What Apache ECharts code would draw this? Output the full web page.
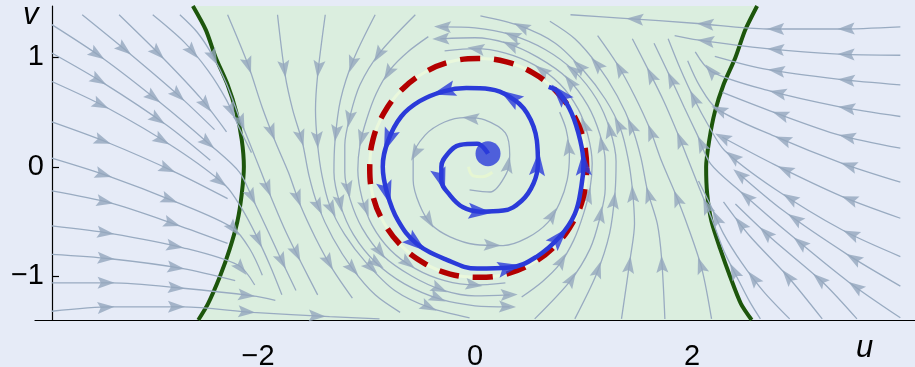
<!DOCTYPE html>
<html><head><meta charset="utf-8">
<script src="https://cdn.jsdelivr.net/npm/echarts@6/dist/echarts.min.js"></script>
<style>html,body{margin:0;padding:0;background:#e6ebf7;}#c{width:915px;height:367px;}</style>
</head><body><div id="c"></div>
<script>
// ---- tick values ----
const uTicks = [-2, 0, 2];
const vTicks = [-1, 0, 1];

// ---- boundary curves of the shaded band (u, v) ----
const leftBoundary = [[-2.60,1.47],[-2.48,1.25],[-2.39,1.00],[-2.28,0.75],[-2.20,0.50],[-2.15,0.25],[-2.13,0.00],[-2.15,-0.25],[-2.19,-0.50],[-2.26,-0.75],[-2.35,-1.00],[-2.46,-1.25],[-2.55,-1.40]];
const rightBoundary = [[2.60,1.47],[2.49,1.25],[2.40,1.00],[2.29,0.75],[2.21,0.50],[2.16,0.25],[2.13,0.00],[2.14,-0.25],[2.18,-0.50],[2.26,-0.75],[2.35,-1.00],[2.45,-1.25],[2.55,-1.40]];

// ---- limit cycle (red dashed) ----
const limitCycle = [[1.03,-0.01],[1.00,0.25],[0.90,0.49],[0.74,0.70],[0.53,0.86],[0.29,0.96],[0.03,0.99],[-0.23,0.96],[-0.47,0.86],[-0.68,0.70],[-0.84,0.49],[-0.94,0.25],[-0.97,-0.01],[-0.94,-0.27],[-0.84,-0.51],[-0.68,-0.72],[-0.47,-0.88],[-0.23,-0.98],[0.03,-1.01],[0.29,-0.98],[0.53,-0.88],[0.74,-0.72],[0.90,-0.51],[1.00,-0.27],[1.03,-0.01]];

// ---- trajectory (blue) ----
const startPoint = [0.12, 0.12];
const trajectory = [[0.12,0.12],[0.02,0.21],[-0.14,0.20],[-0.25,0.12],[-0.31,0.00],[-0.31,-0.12],[-0.23,-0.26],[-0.11,-0.37],[0.05,-0.41],[0.26,-0.40],[0.43,-0.31],[0.54,-0.15],[0.58,0.03],[0.57,0.24],[0.48,0.49],[0.32,0.64],[0.14,0.71],[-0.08,0.72],[-0.29,0.69],[-0.51,0.60],[-0.68,0.46],[-0.80,0.24],[-0.85,0.00],[-0.81,-0.24],[-0.71,-0.49],[-0.54,-0.70],[-0.26,-0.85],[0.02,-0.93],[0.32,-0.92],[0.57,-0.82],[0.78,-0.64],[0.92,-0.43],[0.98,-0.18],[1.00,0.03],[0.97,0.24],[0.89,0.49],[0.78,0.67],[0.68,0.73]];
const trajectoryArrowIdx = [5, 8, 12, 15, 18, 21, 23, 25, 28, 30, 33, 36];

// ---- faint arc near the start ----
const faintArc = [[-0.06,0.00],[-0.02,-0.08],[0.07,-0.09],[0.16,-0.05]];

// ---- stream lines: left region ----
const leftRegionLines = [
 [[-3.62,1.39],[-3.20,1.05],[-2.74,0.66],[-2.40,0.34]],
 [[-3.28,1.39],[-2.88,1.00],[-2.53,0.63],[-2.29,0.32]],
 [[-2.97,1.39],[-2.68,1.14],[-2.46,0.88],[-2.29,0.61],[-2.17,0.35],[-2.06,0.13]],
 [[-2.72,1.39],[-2.56,1.23],[-2.42,1.02],[-2.29,0.76],[-2.18,0.47],[-2.07,0.20],[-1.97,-0.05],[-1.87,-0.30],[-1.74,-0.60],[-1.59,-0.90],[-1.45,-1.17]],
 [[-3.90,1.30],[-3.44,1.00],[-2.93,0.61],[-2.44,0.20],[-2.17,-0.05],[-2.05,-0.29],[-1.93,-0.54],[-1.79,-0.84],[-1.65,-1.13]],
 [[-3.90,1.04],[-3.43,0.77],[-2.84,0.38],[-2.44,0.06]],
 [[-3.90,0.78],[-3.39,0.54],[-2.76,0.17],[-2.30,-0.17],[-2.15,-0.38],[-2.02,-0.62],[-1.89,-0.90],[-1.78,-1.17]],
 [[-3.90,0.41],[-3.38,0.22],[-2.76,-0.05],[-2.28,-0.29]],
 [[-3.90,0.08],[-3.39,-0.08],[-2.76,-0.32],[-2.23,-0.56],[-2.07,-0.76],[-1.96,-0.99]],
 [[-3.90,-0.22],[-3.36,-0.33],[-2.75,-0.53],[-2.28,-0.70]],
 [[-3.90,-0.54],[-3.35,-0.61],[-2.69,-0.74],[-2.18,-0.90],[-2.03,-1.08]],
 [[-3.90,-0.80],[-3.36,-0.84],[-2.69,-0.93],[-2.21,-1.04]],
 [[-3.90,-1.06],[-3.35,-1.06],[-2.69,-1.11],[-2.05,-1.18],[-1.84,-1.22]],
 [[-3.90,-1.32],[-3.35,-1.28],[-2.69,-1.28],[-2.05,-1.33],[-1.34,-1.37],[-0.88,-1.39]]
];
// ---- stream lines: left half of band ----
const leftBandLines = [
 [[-2.28,1.39],[-2.09,0.93],[-1.96,0.54],[-1.84,0.23],[-1.72,-0.05],[-1.61,-0.35],[-1.47,-0.65],[-1.31,-0.94],[-1.13,-1.20]],
 [[-1.82,1.39],[-1.75,0.84],[-1.68,0.52],[-1.59,0.22],[-1.53,-0.08],[-1.45,-0.35],[-1.31,-0.65],[-1.13,-0.93],[-0.92,-1.17],[-0.69,-1.33]],
 [[-1.38,1.39],[-1.45,0.84],[-1.47,0.52],[-1.45,0.20],[-1.41,-0.08],[-1.34,-0.35],[-1.20,-0.62],[-1.00,-0.88],[-0.74,-1.13],[-0.41,-1.29],[-0.05,-1.38]],
 [[-0.92,1.39],[-1.12,0.98],[-1.24,0.61],[-1.29,0.24],[-1.30,-0.05],[-1.24,-0.35],[-1.12,-0.62],[-0.92,-0.87],[-0.65,-1.07],[-0.32,-1.21],[0.00,-1.27],[0.32,-1.28]],
 [[-0.55,1.39],[-0.88,1.04],[-1.06,0.75],[-1.15,0.47],[-1.20,0.20],[-1.20,-0.05],[-1.15,-0.30],[-1.04,-0.56],[-0.85,-0.81],[-0.58,-1.00],[-0.29,-1.13],[0.00,-1.18],[0.32,-1.17]],
 [[-0.43,1.19],[-0.62,1.05],[-0.78,0.89],[-0.91,0.67],[-1.00,0.43],[-1.06,0.20],[-1.08,-0.03],[-1.04,-0.29],[-0.95,-0.53],[-0.78,-0.76],[-0.55,-0.93],[-0.28,-1.04],[0.00,-1.08],[0.28,-1.06]]
];
// ---- stream lines: right region ----
const rightRegionLines = [
 [[3.52,-1.39],[3.20,-1.05],[2.74,-0.66],[2.40,-0.34]],
 [[3.20,-1.39],[2.88,-1.00],[2.53,-0.63],[2.29,-0.32]],
 [[2.90,-1.39],[2.66,-1.14],[2.46,-0.88],[2.29,-0.61],[2.17,-0.35],[2.06,-0.13]],
 [[2.63,-1.39],[2.53,-1.23],[2.42,-1.02],[2.29,-0.76],[2.18,-0.47],[2.07,-0.20],[1.97,0.05],[1.87,0.30],[1.74,0.60],[1.59,0.90],[1.45,1.17]],
 [[3.92,-1.38],[3.44,-1.05],[2.93,-0.64],[2.44,-0.22],[2.17,0.03],[2.05,0.29],[1.93,0.54],[1.79,0.84],[1.65,1.13]],
 [[3.92,-1.09],[3.43,-0.80],[2.84,-0.40],[2.44,-0.07]],
 [[3.92,-0.82],[3.39,-0.58],[2.76,-0.20],[2.30,0.15],[2.15,0.38],[2.02,0.62],[1.89,0.90],[1.78,1.17]],
 [[3.92,-0.47],[3.38,-0.27],[2.76,0.02],[2.28,0.27]],
 [[3.92,-0.14],[3.39,0.03],[2.76,0.28],[2.23,0.53],[2.07,0.74],[1.96,0.97]],
 [[3.92,0.17],[3.36,0.29],[2.75,0.50],[2.28,0.68]],
 [[3.92,0.46],[3.35,0.55],[2.69,0.70],[2.18,0.87],[2.03,1.05]],
 [[3.92,0.75],[3.36,0.80],[2.69,0.89],[2.21,1.01]],
 [[3.92,1.02],[3.35,1.03],[2.69,1.08],[2.05,1.16],[1.84,1.20]],
 [[3.92,1.28],[3.35,1.26],[2.69,1.26],[2.05,1.31],[1.34,1.36],[0.88,1.39]]
];
// ---- stream lines: right half of band ----
const rightBandLines = [
 [[2.18,-1.39],[2.09,-0.93],[1.96,-0.54],[1.84,-0.23],[1.72,0.05],[1.61,0.35],[1.47,0.65],[1.31,0.94],[1.13,1.20]],
 [[1.75,-1.39],[1.72,-0.84],[1.68,-0.52],[1.59,-0.22],[1.53,0.08],[1.45,0.35],[1.31,0.65],[1.13,0.93],[0.92,1.17],[0.69,1.33]],
 [[1.35,-1.39],[1.43,-0.84],[1.47,-0.52],[1.45,-0.20],[1.41,0.08],[1.34,0.35],[1.20,0.62],[1.00,0.88],[0.74,1.13],[0.41,1.29],[0.05,1.38]],
 [[0.92,-1.39],[1.12,-0.98],[1.24,-0.61],[1.29,-0.24],[1.30,0.05],[1.24,0.35],[1.12,0.62],[0.92,0.87],[0.65,1.07],[0.32,1.21],[0.00,1.27],[-0.32,1.28]],
 [[0.55,-1.39],[0.88,-1.04],[1.06,-0.75],[1.15,-0.47],[1.20,-0.20],[1.20,0.05],[1.15,0.30],[1.04,0.56],[0.85,0.81],[0.58,1.00],[0.29,1.13],[0.00,1.18],[-0.32,1.17]],
 [[0.43,-1.19],[0.62,-1.05],[0.78,-0.89],[0.91,-0.67],[1.00,-0.43],[1.06,-0.20],[1.08,0.03],[1.04,0.29],[0.95,0.53],[0.78,0.76],[0.55,0.93],[0.28,1.04],[0.00,1.08],[-0.28,1.06]]
];
// ---- stream line: inner spiral ----
const innerSpiral = [[-0.05,-0.21],[0.14,-0.23],[0.29,-0.06],[0.32,0.11],[0.28,0.31],[0.09,0.43],[-0.09,0.45],[-0.28,0.41],[-0.46,0.29],[-0.57,0.09],[-0.57,-0.12],[-0.51,-0.35],[-0.40,-0.53],[-0.23,-0.64],[0.00,-0.71],[0.26,-0.72],[0.48,-0.65],[0.67,-0.51],[0.78,-0.33],[0.85,-0.12],[0.87,0.11],[0.84,0.34],[0.78,0.50]];

// ---------------- build chart ----------------
const GRAY = '#99abc1';
const BLUE = '#2b3bd9';
const FONT = '"Liberation Sans", Arial, sans-serif';
const ARROW = 'path://M5,0L10,16L5,13L0,16Z';

function dirDeg(a, b) { return Math.atan2(b[1] - a[1], b[0] - a[0]) * 180 / Math.PI - 90; }

function arrowsAlong(line, first, step) {
  const out = []; let acc = 0; let next = first;
  for (let i = 1; i < line.length; i++) {
    const a = line[i - 1], b = line[i];
    const d = Math.hypot(b[0] - a[0], b[1] - a[1]);
    while (acc + d >= next) {
      const t = (next - acc) / d;
      out.push({ value: [a[0] + t * (b[0] - a[0]), a[1] + t * (b[1] - a[1])], symbolRotate: dirDeg(a, b) });
      next += step;
    }
    acc += d;
  }
  return out;
}

const allStream = [].concat(leftRegionLines, leftBandLines, rightRegionLines, rightBandLines, [innerSpiral]);
const series = [];

// band fill
const bandPolygon = leftBoundary.concat(rightBoundary.slice().reverse());
series.push({
  type: 'custom', z: 1, silent: true, clip: true, data: [[0, 0]],
  renderItem: function (params, api) {
    return { type: 'polygon', shape: { points: bandPolygon.map(p => api.coord(p)) }, style: { fill: '#dbeedf' } };
  }
});
// boundary curves
[leftBoundary, rightBoundary].forEach(b => series.push({
  type: 'line', data: b, smooth: 0.25, symbol: 'none', z: 2, silent: true, clip: true,
  lineStyle: { color: '#1d560c', width: 4 }
}));
// stream lines
const grayArrows = [];
allStream.forEach(l => {
  series.push({ type: 'line', data: l, smooth: 0.3, symbol: 'none', z: 3, silent: true, clip: true,
    lineStyle: { color: GRAY, width: 1.3 } });
  arrowsAlong(l, 0.5, 0.65).forEach(a => grayArrows.push(a));
});
series.push({ type: 'scatter', data: grayArrows, symbol: ARROW, symbolSize: [12, 17], z: 4, silent: true, clip: true,
  itemStyle: { color: '#93a6bd' } });
// faint curves
series.push({ type: 'line', data: limitCycle, smooth: 0.4, symbol: 'none', z: 5, silent: true,
  lineStyle: { color: '#eaf8dc', width: 3 } });
series.push({ type: 'line', data: faintArc, smooth: 0.4, symbol: 'none', z: 5, silent: true,
  lineStyle: { color: '#e6f6d3', width: 3 } });
// limit cycle dashed
series.push({ type: 'line', data: limitCycle, smooth: 0.4, symbol: 'none', z: 6, silent: true,
  lineStyle: { color: '#b30000', width: 5.5, type: [20, 14] } });
// trajectory
series.push({ type: 'line', data: trajectory, smooth: 0.4, symbol: 'none', z: 7, silent: true,
  lineStyle: { color: BLUE, width: 4.5 } });
series.push({ type: 'scatter', z: 8, silent: true, symbol: ARROW, symbolSize: [16, 24],
  itemStyle: { color: BLUE },
  data: trajectoryArrowIdx.map(i => ({ value: trajectory[i], symbolRotate: dirDeg(trajectory[i - 1], trajectory[i + 1]) })) });
series.push({ type: 'scatter', z: 9, silent: true, symbol: 'circle', symbolSize: 25,
  itemStyle: { color: BLUE }, data: [startPoint] });

const fmt = v => (v < 0 ? '\u2212' + Math.abs(v) : String(v));

const chart = echarts.init(document.getElementById('c'), null, { renderer: 'canvas' });
chart.setOption({
  backgroundColor: '#e6ebf7',
  animation: false,
  grid: { left: 35, right: 0, top: 6, bottom: 47, containLabel: false, outerBoundsMode: 'none' },
  xAxis: {
    type: 'value', min: -4.055, max: 4.055,
    axisLine: { show: true, onZero: false, lineStyle: { color: '#000', width: 1.2 } },
    axisTick: { show: true, inside: true, length: 7, customValues: uTicks, lineStyle: { color: '#000', width: 1.2 } },
    axisLabel: { customValues: uTicks, formatter: fmt, margin: 22, color: '#000', fontSize: 29, fontFamily: FONT },
    splitLine: { show: false }
  },
  yAxis: {
    type: 'value', min: -1.40, max: 1.47, offset: -17,
    axisLine: { show: true, onZero: false, lineStyle: { color: '#000', width: 1.2 } },
    axisTick: { show: true, inside: true, length: 7, customValues: vTicks, lineStyle: { color: '#000', width: 1.2 } },
    axisLabel: { customValues: vTicks, formatter: fmt, margin: 8, color: '#000', fontSize: 29, fontFamily: FONT },
    splitLine: { show: false }
  },
  graphic: [
    { type: 'text', left: 23, top: 0, style: { text: 'v', font: 'italic 31px ' + FONT, fill: '#000' } },
    { type: 'text', left: 856, top: 333, style: { text: 'u', font: 'italic 31px ' + FONT, fill: '#000' } }
  ],
  series: series
});
</script></body></html>
